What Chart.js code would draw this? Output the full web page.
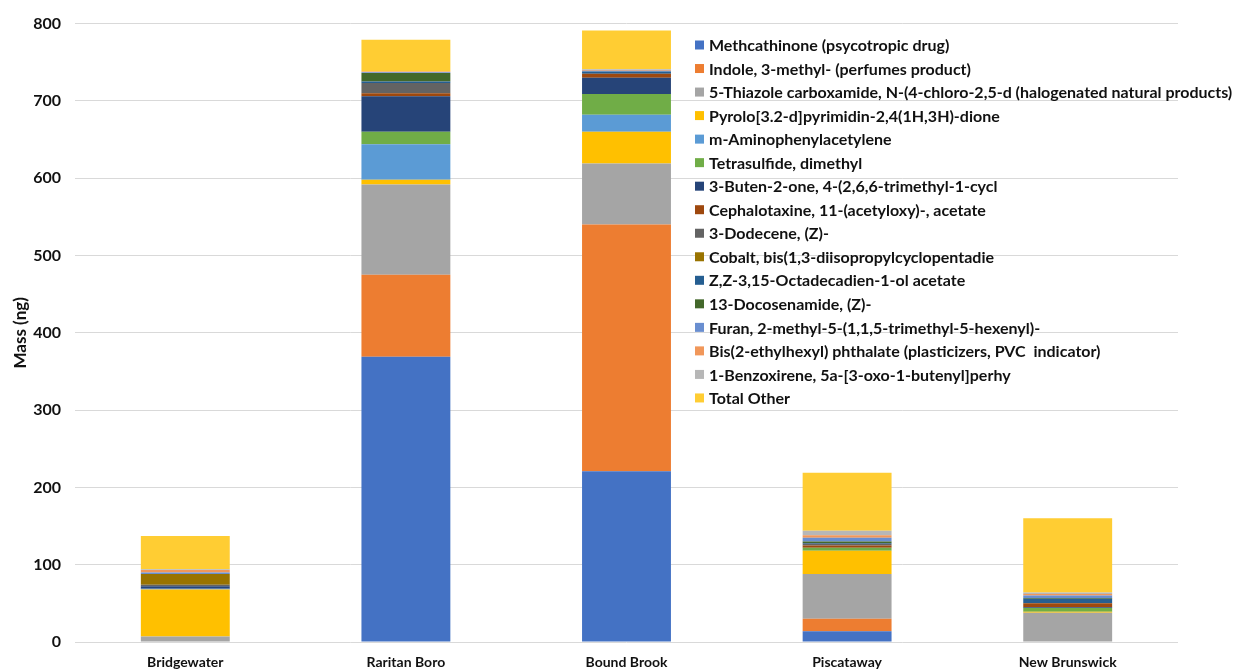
<!DOCTYPE html>
<html>
<head>
<meta charset="utf-8">
<script src="https://cdn.jsdelivr.net/npm/chart.js@4"></script>
<style>
  html, body { margin: 0; padding: 0; background: #fff; }
  #wrap { width: 1237px; height: 672px; position: relative; }
</style>
</head>
<body>
<div id="wrap"><canvas id="massChart" width="1237" height="672"></canvas></div>
<script>
const sites = ['Bridgewater', 'Raritan Boro', 'Bound Brook', 'Piscataway', 'New Brunswick'];
const yTicks = [0, 100, 200, 300, 400, 500, 600, 700, 800];

const compounds = [
  'Methcathinone (psycotropic drug)',
  'Indole, 3-methyl- (perfumes product)',
  '5-Thiazole carboxamide, N-(4-chloro-2,5-d (halogenated natural products)',
  'Pyrolo[3.2-d]pyrimidin-2,4(1H,3H)-dione',
  'm-Aminophenylacetylene',
  'Tetrasulfide, dimethyl',
  '3-Buten-2-one, 4-(2,6,6-trimethyl-1-cycl',
  'Cephalotaxine, 11-(acetyloxy)-, acetate',
  '3-Dodecene, (Z)-',
  'Cobalt, bis(1,3-diisopropylcyclopentadie',
  'Z,Z-3,15-Octadecadien-1-ol acetate',
  '13-Docosenamide, (Z)-',
  'Furan, 2-methyl-5-(1,1,5-trimethyl-5-hexenyl)-',
  'Bis(2-ethylhexyl) phthalate (plasticizers, PVC  indicator)',
  '1-Benzoxirene, 5a-[3-oxo-1-butenyl]perhy',
  'Total Other'
];

// mass (ng) per compound, one value per site in the order of `sites`
const methcathinone  = [0, 369, 221, 14, 0];
const indole         = [0, 106, 319, 16, 0];
const thiazole       = [7, 117, 79, 58, 38];
const pyrolo         = [61, 6, 41, 30, 1];
const aminophenyl    = [1, 46, 22, 0, 0];
const tetrasulfide   = [0, 16, 27, 4, 5];
const butenone       = [3, 46, 21, 0, 1];
const cephalotaxine  = [0, 4, 5, 3, 5];
const dodecene       = [2, 13, 0, 2, 0];
const cobalt         = [14, 0, 0, 0, 0];
const octadecadienol = [0, 2, 3, 1, 6];
const docosenamide   = [0, 11, 0, 2, 1];
const furan          = [2, 1, 1, 5, 3];
const phthalate      = [3, 1, 1, 3, 2];
const benzoxirene    = [1, 0, 1, 6, 2];
const totalOther     = [43, 41, 50, 75, 96];

const seriesValues = [methcathinone, indole, thiazole, pyrolo, aminophenyl, tetrasulfide,
  butenone, cephalotaxine, dodecene, cobalt, octadecadienol, docosenamide, furan,
  phthalate, benzoxirene, totalOther];

const palette = ['#4472C4', '#ED7D31', '#A5A5A5', '#FFC000', '#5B9BD5', '#70AD47',
  '#264478', '#9E480E', '#636363', '#997300', '#255E91', '#43682B', '#698ED0',
  '#F1975A', '#B7B7B7', '#FFCD33'];

const FONT = 'Lato, "Liberation Sans", sans-serif';
const INK = '#111';

// legend sits over the plot, to the right of the tallest bar
const overlayLegend = {
  id: 'overlayLegend',
  afterDraw(chart) {
    const ctx = chart.ctx;
    const x0 = 695, y0 = 45, step = 23.53, box = 9;
    ctx.save();
    ctx.font = 'bold 16px ' + FONT;
    ctx.textBaseline = 'middle';
    ctx.textAlign = 'left';
    chart.data.datasets.forEach((ds, i) => {
      const y = y0 + i * step;
      ctx.fillStyle = ds.backgroundColor;
      ctx.fillRect(x0, y - box / 2, box, box);
      ctx.fillStyle = INK;
      ctx.fillText(ds.label, x0 + 14, y + 1);
    });
    ctx.restore();
  }
};

const ctx = document.getElementById('massChart').getContext('2d');
new Chart(ctx, {
  type: 'bar',
  data: {
    labels: sites,
    datasets: compounds.map((name, i) => ({
      label: name,
      data: seriesValues[i],
      backgroundColor: palette[i],
      borderWidth: 0,
      barPercentage: 0.403,
      categoryPercentage: 1.0
    }))
  },
  options: {
    responsive: false,
    animation: false,
    layout: { padding: { top: 20, right: 59, left: 0, bottom: 0 } },
    plugins: {
      legend: { display: false },
      tooltip: { enabled: false }
    },
    scales: {
      x: {
        stacked: true,
        grid: { display: false, drawTicks: false },
        border: { display: false },
        ticks: {
          color: INK,
          font: { family: FONT, size: 14, weight: 'bold' },
          padding: 12
        },
        afterFit(scale) { scale.height = 30; }
      },
      y: {
        stacked: true,
        min: 0,
        max: 800,
        afterBuildTicks(scale) { scale.ticks = yTicks.map(v => ({ value: v })); },
        grid: { color: '#D9D9D9', lineWidth: 1, drawTicks: false },
        border: { display: false },
        ticks: {
          color: INK,
          font: { family: FONT, size: 16, weight: 'bold' },
          padding: 14
        },
        title: {
          display: true,
          text: 'Mass (ng)',
          color: INK,
          font: { family: FONT, size: 17, weight: 'bold' },
          padding: { top: 10, bottom: 0 }
        },
        afterFit(scale) { scale.width = 75; }
      }
    }
  },
  plugins: [overlayLegend]
});
</script>
</body>
</html>
